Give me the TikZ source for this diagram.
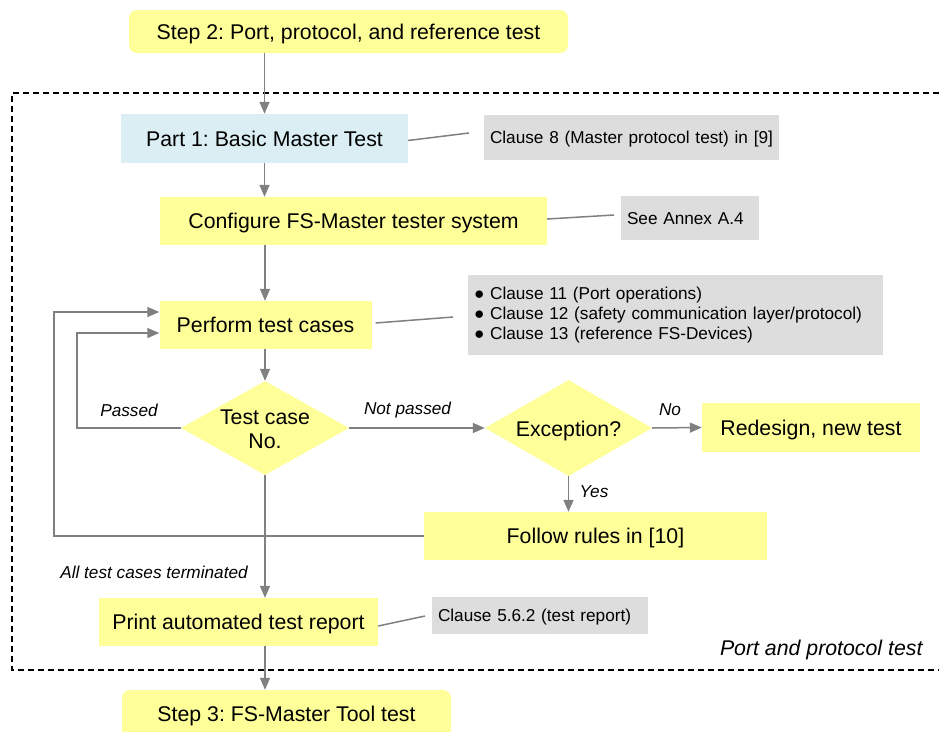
\documentclass[tikz,border=0pt]{standalone}
\usepackage{fontspec}
\setmainfont{Liberation Sans}
\frenchspacing
\usetikzlibrary{shapes.geometric,arrows.meta}
\definecolor{boxyellow}{HTML}{FFFF99}
\definecolor{boxblue}{HTML}{DAEEF3}
\definecolor{notegray}{HTML}{DDDDDD}
\definecolor{linegray}{HTML}{808080}

\begin{document}
\begin{tikzpicture}[x=1pt,y=-1pt,
  big/.style={font=\fontsize{21.3}{24}\selectfont},
  small/.style={font=\fontsize{17.2}{20}\selectfont},
  lbl/.style={font=\fontsize{17.2}{20}\selectfont\itshape},
  capcentre/.style={text height=15.3pt, text depth=0pt},
  stepbox/.style={big, capcentre, fill=boxyellow, rounded corners=8pt, inner sep=0pt},
  procbox/.style={big, capcentre, fill=boxyellow, inner sep=0pt},
  partbox/.style={big, capcentre, fill=boxblue, inner sep=0pt},
  decision/.style={diamond, fill=boxyellow, inner sep=0pt},
  note/.style={small, fill=notegray, inner xsep=6pt, inner ysep=0pt, align=left},
  onenote/.style={note, text height=12.3pt, text depth=0pt},
  flow/.style={draw=linegray, line width=1.5pt, -{Triangle[length=12pt,width=10pt]}},
  link/.style={draw=linegray, line width=1.5pt},
  frame/.style={draw=black, line width=1.2pt, dash pattern=on 6pt off 4pt},
]
\useasboundingbox (0,0) rectangle (939,731);
\clip (0,0) rectangle (939,731);

% outer frame of the port and protocol test
\draw[frame] (939,93) -- (12,93) -- (12,670) -- (939,670);
\node[lbl, anchor=east] (frametitle) at (926,650) {\fontsize{21.3}{24}\selectfont Port and protocol test};

% main flow boxes
\node[stepbox, minimum width=439pt, minimum height=43pt] (step2) at (348.5,31.5) {Step 2: Port, protocol, and reference test};
\node[partbox, minimum width=287pt, minimum height=49pt] (p1) at (264.5,138.5) {Part 1: Basic Master Test};
\node[procbox, minimum width=387pt, minimum height=48pt] (cfg) at (353.5,221) {Configure FS-Master tester system};
\node[procbox, minimum width=212pt, minimum height=48pt] (perf) at (265.5,325) {Perform test cases};
\node[decision, minimum width=168pt, minimum height=94pt] (d1) at (265,428) {};
\node[big, align=center] (d1text) at (265,429) {Test case\\No.};
\node[decision, minimum width=167pt, minimum height=96pt] (d2) at (568.5,428) {};
\node[big, capcentre] (d2text) at (568.5,429) {Exception?};
\node[procbox, minimum width=218pt, minimum height=49pt] (redesign) at (811,427.5) {Redesign, new test};
\node[procbox, minimum width=343pt, minimum height=48pt] (follow) at (595.5,536) {Follow rules in [10]};
\node[procbox, minimum width=279pt, minimum height=48pt] (print) at (238.5,622) {Print automated test report};
\node[stepbox, minimum width=329pt, minimum height=48pt] (step3) at (286.5,714) {Step 3: FS-Master Tool test};

% reference notes
\node[onenote, text width=283pt, minimum height=45pt] (n1) at (631.5,137.5) {Clause 8 (Master protocol test) in [9]};
\node[onenote, text width=126pt, minimum height=44pt] (n2) at (690,218) {See Annex A.4};
\node[note, text width=403pt, minimum height=80pt] (n3) at (675.5,315) {● Clause 11 (Port operations)\\● Clause 12 (safety communication layer/protocol)\\● Clause 13 (reference FS-Devices)};
\node[onenote, text width=204pt, minimum height=37pt] (n4) at (540,615.5) {Clause 5.6.2 (test report)};

% note leaders
\coordinate (n1end) at (469,133);
\coordinate (n2end) at (614,215);
\coordinate (n3end) at (453,317);
\coordinate (n4end) at (425,616);
\draw[link] ([yshift=-2pt]p1.east) -- (n1end);
\draw[link] ([yshift=2pt]cfg.east) -- (n2end);
\draw[link] ([xshift=4pt,yshift=2pt]perf.east) -- (n3end);
\draw[link] ([yshift=-4pt]print.east) -- (n4end);

% connectors
\coordinate (passL) at (77,428);
\coordinate (loopL) at (54,536);
\draw[flow] (p1 |- step2.south) -- (p1.north);
\draw[flow] (p1.south) -- (p1.south |- cfg.north);
\draw[flow] (d1 |- cfg.south) -- (d1 |- perf.north);
\draw[flow] (d1 |- perf.south) -- (d1.north);
\draw[flow] (d1.west) -- (passL) |- ([yshift=-8pt]perf.west);
\draw[flow] (follow.west) -- (loopL) |- ([yshift=13pt]perf.west);
\draw[flow] (d1.east) -- (d2.west);
\draw[flow] (d2.east) -- (redesign.west);
\draw[flow] (d2.south) -- (d2.south |- follow.north);
\draw[flow] (d1.south) -- (d1 |- print.north);
\draw[flow] (d1 |- print.south) -- (d1 |- step3.north);

% branch labels
\node[lbl] (lpass) at (129,410) {Passed};
\node[lbl] (lnot) at (407.5,410) {Not passed};
\node[lbl] (lno) at (670,410) {No};
\node[lbl] (lyes) at (594,492) {Yes};
\node[lbl] (lall) at (154,572) {All test cases terminated};
\end{tikzpicture}
\end{document}
